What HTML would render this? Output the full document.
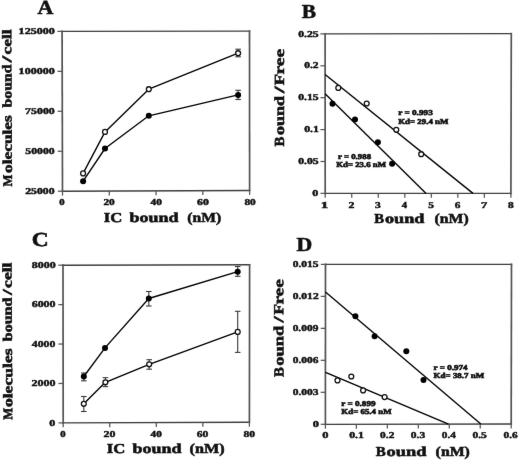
<!DOCTYPE html><html><head><meta charset="utf-8"><style>html,body{margin:0;padding:0;background:#fff;width:520px;height:460px;overflow:hidden}svg{display:block;will-change:transform}</style></head><body><svg width="520" height="460" viewBox="0 0 520 460"><defs><filter id="soft" x="0" y="0" width="520" height="460" filterUnits="userSpaceOnUse" color-interpolation-filters="sRGB"><feConvolveMatrix order="3" kernelMatrix="0.00276 0.04704 0.00276 0.04704 0.80077 0.04704 0.00276 0.04704 0.00276" edgeMode="duplicate"/></filter></defs><g filter="url(#soft)"><rect width="520" height="460" fill="#fff"/><g id="gfx"><line x1="62.10" y1="31.40" x2="249.50" y2="31.10" stroke="#404040" stroke-width="1.35" stroke-linecap="square"/><line x1="62.50" y1="191.20" x2="249.60" y2="190.50" stroke="#404040" stroke-width="1.35" stroke-linecap="square"/><line x1="62.10" y1="31.40" x2="62.50" y2="191.20" stroke="#545454" stroke-width="1.7" stroke-linecap="square"/><line x1="249.50" y1="31.10" x2="249.60" y2="190.50" stroke="#545454" stroke-width="1.7" stroke-linecap="square"/><line x1="57.80" y1="191.20" x2="62.50" y2="191.20" stroke="#555" stroke-width="1.25" /><line x1="57.70" y1="151.25" x2="62.40" y2="151.25" stroke="#555" stroke-width="1.25" /><line x1="57.60" y1="111.30" x2="62.30" y2="111.30" stroke="#555" stroke-width="1.25" /><line x1="57.50" y1="71.35" x2="62.20" y2="71.35" stroke="#555" stroke-width="1.25" /><line x1="57.40" y1="31.40" x2="62.10" y2="31.40" stroke="#555" stroke-width="1.25" /><line x1="62.50" y1="191.20" x2="62.50" y2="195.60" stroke="#555" stroke-width="1.25" /><line x1="109.28" y1="191.02" x2="109.28" y2="195.42" stroke="#555" stroke-width="1.25" /><line x1="156.05" y1="190.85" x2="156.05" y2="195.25" stroke="#555" stroke-width="1.25" /><line x1="202.82" y1="190.68" x2="202.82" y2="195.08" stroke="#555" stroke-width="1.25" /><line x1="249.60" y1="190.50" x2="249.60" y2="194.90" stroke="#555" stroke-width="1.25" /><g stroke="#3a3a3a" stroke-width="1.1"><line x1="238.1" y1="49.2" x2="238.1" y2="56.8"/><line x1="235.29999999999998" y1="49.2" x2="240.9" y2="49.2"/><line x1="235.29999999999998" y1="56.8" x2="240.9" y2="56.8"/><line x1="238.1" y1="90.3" x2="238.1" y2="99.5"/><line x1="235.29999999999998" y1="90.3" x2="240.9" y2="90.3"/><line x1="235.29999999999998" y1="99.5" x2="240.9" y2="99.5"/></g><polyline fill="none" stroke="#000" stroke-width="1.35" stroke-linejoin="round" points="83.1,173.4 105,131.9 148.8,89.2 238.1,53.2"/><polyline fill="none" stroke="#000" stroke-width="1.35" stroke-linejoin="round" points="83.1,181.2 105,148.5 148.8,115.8 238.1,94.9"/><circle cx="83.1" cy="173.4" r="2.45" fill="#fff" stroke="#111" stroke-width="1.3"/><circle cx="105" cy="131.9" r="2.45" fill="#fff" stroke="#111" stroke-width="1.3"/><circle cx="148.8" cy="89.2" r="2.45" fill="#fff" stroke="#111" stroke-width="1.3"/><circle cx="238.1" cy="53.2" r="2.45" fill="#fff" stroke="#111" stroke-width="1.3"/><circle cx="83.1" cy="181.2" r="3.0" fill="#000"/><circle cx="105" cy="148.5" r="3.0" fill="#000"/><circle cx="148.8" cy="115.8" r="3.0" fill="#000"/><circle cx="238.1" cy="94.9" r="3.0" fill="#000"/><line x1="325.10" y1="33.90" x2="511.30" y2="33.60" stroke="#404040" stroke-width="1.35" stroke-linecap="square"/><line x1="325.20" y1="193.40" x2="510.90" y2="193.40" stroke="#404040" stroke-width="1.35" stroke-linecap="square"/><line x1="325.10" y1="33.90" x2="325.20" y2="193.40" stroke="#545454" stroke-width="1.7" stroke-linecap="square"/><line x1="511.30" y1="33.60" x2="510.90" y2="193.40" stroke="#545454" stroke-width="1.7" stroke-linecap="square"/><line x1="320.50" y1="193.40" x2="325.20" y2="193.40" stroke="#555" stroke-width="1.25" /><line x1="320.48" y1="161.50" x2="325.18" y2="161.50" stroke="#555" stroke-width="1.25" /><line x1="320.46" y1="129.60" x2="325.16" y2="129.60" stroke="#555" stroke-width="1.25" /><line x1="320.44" y1="97.70" x2="325.14" y2="97.70" stroke="#555" stroke-width="1.25" /><line x1="320.42" y1="65.80" x2="325.12" y2="65.80" stroke="#555" stroke-width="1.25" /><line x1="320.40" y1="33.90" x2="325.10" y2="33.90" stroke="#555" stroke-width="1.25" /><line x1="325.20" y1="193.40" x2="325.20" y2="197.80" stroke="#555" stroke-width="1.25" /><line x1="351.73" y1="193.40" x2="351.73" y2="197.80" stroke="#555" stroke-width="1.25" /><line x1="378.26" y1="193.40" x2="378.26" y2="197.80" stroke="#555" stroke-width="1.25" /><line x1="404.79" y1="193.40" x2="404.79" y2="197.80" stroke="#555" stroke-width="1.25" /><line x1="431.31" y1="193.40" x2="431.31" y2="197.80" stroke="#555" stroke-width="1.25" /><line x1="457.84" y1="193.40" x2="457.84" y2="197.80" stroke="#555" stroke-width="1.25" /><line x1="484.37" y1="193.40" x2="484.37" y2="197.80" stroke="#555" stroke-width="1.25" /><line x1="510.90" y1="193.40" x2="510.90" y2="197.80" stroke="#555" stroke-width="1.25" /><g stroke="#000" stroke-width="1.35"><line x1="325.1" y1="74.5" x2="473.0" y2="193.4"/><line x1="325.1" y1="93.7" x2="426.1" y2="193.4"/></g><circle cx="338.3" cy="87.9" r="2.45" fill="#fff" stroke="#111" stroke-width="1.3"/><circle cx="366.7" cy="103.5" r="2.45" fill="#fff" stroke="#111" stroke-width="1.3"/><circle cx="396.3" cy="129.8" r="2.45" fill="#fff" stroke="#111" stroke-width="1.3"/><circle cx="421.2" cy="154.2" r="2.45" fill="#fff" stroke="#111" stroke-width="1.3"/><circle cx="332.5" cy="103.8" r="3.0" fill="#000"/><circle cx="355" cy="119.6" r="3.0" fill="#000"/><circle cx="377.9" cy="142.3" r="3.0" fill="#000"/><circle cx="392.1" cy="163.7" r="3.0" fill="#000"/><line x1="63.00" y1="265.20" x2="249.60" y2="264.80" stroke="#404040" stroke-width="1.35" stroke-linecap="square"/><line x1="63.20" y1="422.90" x2="249.40" y2="422.30" stroke="#404040" stroke-width="1.35" stroke-linecap="square"/><line x1="63.00" y1="265.20" x2="63.20" y2="422.90" stroke="#545454" stroke-width="1.7" stroke-linecap="square"/><line x1="249.60" y1="264.80" x2="249.40" y2="422.30" stroke="#545454" stroke-width="1.7" stroke-linecap="square"/><line x1="58.50" y1="422.90" x2="63.20" y2="422.90" stroke="#555" stroke-width="1.25" /><line x1="58.45" y1="383.47" x2="63.15" y2="383.47" stroke="#555" stroke-width="1.25" /><line x1="58.40" y1="344.05" x2="63.10" y2="344.05" stroke="#555" stroke-width="1.25" /><line x1="58.35" y1="304.62" x2="63.05" y2="304.62" stroke="#555" stroke-width="1.25" /><line x1="58.30" y1="265.20" x2="63.00" y2="265.20" stroke="#555" stroke-width="1.25" /><line x1="63.20" y1="422.90" x2="63.20" y2="427.30" stroke="#555" stroke-width="1.25" /><line x1="109.75" y1="422.75" x2="109.75" y2="427.15" stroke="#555" stroke-width="1.25" /><line x1="156.30" y1="422.60" x2="156.30" y2="427.00" stroke="#555" stroke-width="1.25" /><line x1="202.85" y1="422.45" x2="202.85" y2="426.85" stroke="#555" stroke-width="1.25" /><line x1="249.40" y1="422.30" x2="249.40" y2="426.70" stroke="#555" stroke-width="1.25" /><g stroke="#3a3a3a" stroke-width="1.1"><line x1="83.8" y1="373" x2="83.8" y2="380.8"/><line x1="81.0" y1="373" x2="86.6" y2="373"/><line x1="81.0" y1="380.8" x2="86.6" y2="380.8"/><line x1="148.8" y1="291.5" x2="148.8" y2="306"/><line x1="146.0" y1="291.5" x2="151.60000000000002" y2="291.5"/><line x1="146.0" y1="306" x2="151.60000000000002" y2="306"/><line x1="237.7" y1="266.5" x2="237.7" y2="276.3"/><line x1="234.89999999999998" y1="266.5" x2="240.5" y2="266.5"/><line x1="234.89999999999998" y1="276.3" x2="240.5" y2="276.3"/><line x1="83.8" y1="396.5" x2="83.8" y2="411.5"/><line x1="81.0" y1="396.5" x2="86.6" y2="396.5"/><line x1="81.0" y1="411.5" x2="86.6" y2="411.5"/><line x1="105.4" y1="377.7" x2="105.4" y2="386.6"/><line x1="102.60000000000001" y1="377.7" x2="108.2" y2="377.7"/><line x1="102.60000000000001" y1="386.6" x2="108.2" y2="386.6"/><line x1="149.2" y1="359.7" x2="149.2" y2="369.2"/><line x1="146.39999999999998" y1="359.7" x2="152.0" y2="359.7"/><line x1="146.39999999999998" y1="369.2" x2="152.0" y2="369.2"/><line x1="237.7" y1="311.3" x2="237.7" y2="352.4"/><line x1="234.89999999999998" y1="311.3" x2="240.5" y2="311.3"/><line x1="234.89999999999998" y1="352.4" x2="240.5" y2="352.4"/></g><polyline fill="none" stroke="#000" stroke-width="1.35" stroke-linejoin="round" points="83.8,376.5 105,347.9 148.8,298.5 237.7,271.7"/><polyline fill="none" stroke="#000" stroke-width="1.35" stroke-linejoin="round" points="83.8,403.8 105.4,382.3 149.2,364.3 237.7,331.9"/><circle cx="83.8" cy="403.8" r="2.45" fill="#fff" stroke="#111" stroke-width="1.3"/><circle cx="105.4" cy="382.3" r="2.45" fill="#fff" stroke="#111" stroke-width="1.3"/><circle cx="149.2" cy="364.3" r="2.45" fill="#fff" stroke="#111" stroke-width="1.3"/><circle cx="237.7" cy="331.9" r="2.45" fill="#fff" stroke="#111" stroke-width="1.3"/><circle cx="83.8" cy="376.5" r="3.0" fill="#000"/><circle cx="105" cy="347.9" r="3.0" fill="#000"/><circle cx="148.8" cy="298.5" r="3.0" fill="#000"/><circle cx="237.7" cy="271.7" r="3.0" fill="#000"/><line x1="325.50" y1="264.40" x2="511.50" y2="264.40" stroke="#404040" stroke-width="1.35" stroke-linecap="square"/><line x1="325.40" y1="424.30" x2="511.20" y2="424.00" stroke="#404040" stroke-width="1.35" stroke-linecap="square"/><line x1="325.50" y1="264.40" x2="325.40" y2="424.30" stroke="#545454" stroke-width="1.7" stroke-linecap="square"/><line x1="511.50" y1="264.40" x2="511.20" y2="424.00" stroke="#545454" stroke-width="1.7" stroke-linecap="square"/><line x1="320.70" y1="424.30" x2="325.40" y2="424.30" stroke="#555" stroke-width="1.25" /><line x1="320.72" y1="392.32" x2="325.42" y2="392.32" stroke="#555" stroke-width="1.25" /><line x1="320.74" y1="360.34" x2="325.44" y2="360.34" stroke="#555" stroke-width="1.25" /><line x1="320.76" y1="328.36" x2="325.46" y2="328.36" stroke="#555" stroke-width="1.25" /><line x1="320.78" y1="296.38" x2="325.48" y2="296.38" stroke="#555" stroke-width="1.25" /><line x1="320.80" y1="264.40" x2="325.50" y2="264.40" stroke="#555" stroke-width="1.25" /><line x1="325.40" y1="424.30" x2="325.40" y2="428.70" stroke="#555" stroke-width="1.25" /><line x1="356.37" y1="424.25" x2="356.37" y2="428.65" stroke="#555" stroke-width="1.25" /><line x1="387.33" y1="424.20" x2="387.33" y2="428.60" stroke="#555" stroke-width="1.25" /><line x1="418.30" y1="424.15" x2="418.30" y2="428.55" stroke="#555" stroke-width="1.25" /><line x1="449.27" y1="424.10" x2="449.27" y2="428.50" stroke="#555" stroke-width="1.25" /><line x1="480.23" y1="424.05" x2="480.23" y2="428.45" stroke="#555" stroke-width="1.25" /><line x1="511.20" y1="424.00" x2="511.20" y2="428.40" stroke="#555" stroke-width="1.25" /><g stroke="#000" stroke-width="1.35"><line x1="325.5" y1="291.9" x2="480.8" y2="424.1"/><line x1="325.5" y1="372.3" x2="448.5" y2="424.2"/></g><circle cx="337.5" cy="380.4" r="2.45" fill="#fff" stroke="#111" stroke-width="1.3"/><circle cx="351.3" cy="376.5" r="2.45" fill="#fff" stroke="#111" stroke-width="1.3"/><circle cx="363.1" cy="390.4" r="2.45" fill="#fff" stroke="#111" stroke-width="1.3"/><circle cx="384.6" cy="397.1" r="2.45" fill="#fff" stroke="#111" stroke-width="1.3"/><circle cx="355.4" cy="316.2" r="3.0" fill="#000"/><circle cx="374.6" cy="336.2" r="3.0" fill="#000"/><circle cx="406.3" cy="351.3" r="3.0" fill="#000"/><circle cx="423.5" cy="380" r="3.0" fill="#000"/></g><g id="txt" font-family='"Liberation Serif", serif' font-weight="bold" fill="#111" stroke="#111" text-rendering="geometricPrecision"><text id="t0" x="37.48" y="14.00" font-size="19.87" stroke-width="0.55" textLength="15.84" lengthAdjust="spacingAndGlyphs">A</text><text id="t1" x="301.87" y="18.00" font-size="19.87" stroke-width="0.55" textLength="14.24" lengthAdjust="spacingAndGlyphs">B</text><text id="t2" x="31.67" y="246.00" font-size="19.87" stroke-width="0.55" textLength="16.92" lengthAdjust="spacingAndGlyphs">C</text><text id="t3" x="296.59" y="251.00" font-size="19.87" stroke-width="0.55" textLength="15.74" lengthAdjust="spacingAndGlyphs">D</text><text id="t4" x="18.61" y="34.00" font-size="8.98" stroke-width="0.45" textLength="36.15" lengthAdjust="spacingAndGlyphs">125000</text><text id="t5" x="18.61" y="74.00" font-size="8.98" stroke-width="0.45" textLength="36.15" lengthAdjust="spacingAndGlyphs">100000</text><text id="t6" x="25.12" y="114.00" font-size="8.98" stroke-width="0.45" textLength="29.62" lengthAdjust="spacingAndGlyphs">75000</text><text id="t7" x="25.31" y="154.00" font-size="8.98" stroke-width="0.45" textLength="29.31" lengthAdjust="spacingAndGlyphs">50000</text><text id="t8" x="25.16" y="194.00" font-size="8.98" stroke-width="0.45" textLength="29.48" lengthAdjust="spacingAndGlyphs">25000</text><text id="t9" x="59.21" y="205.00" font-size="8.98" stroke-width="0.45" textLength="5.39" lengthAdjust="spacingAndGlyphs">0</text><text id="t10" x="103.40" y="205.00" font-size="8.98" stroke-width="0.45" textLength="11.37" lengthAdjust="spacingAndGlyphs">20</text><text id="t11" x="150.58" y="205.00" font-size="8.98" stroke-width="0.45" textLength="11.36" lengthAdjust="spacingAndGlyphs">40</text><text id="t12" x="197.02" y="205.00" font-size="8.98" stroke-width="0.45" textLength="11.81" lengthAdjust="spacingAndGlyphs">60</text><text id="t13" x="244.43" y="205.00" font-size="8.98" stroke-width="0.45" textLength="11.38" lengthAdjust="spacingAndGlyphs">80</text><text id="t14" x="103.83" y="222.00" font-size="13.72" stroke-width="0.55" textLength="18.47" lengthAdjust="spacingAndGlyphs">IC</text><text id="t15" x="129.51" y="222.00" font-size="13.72" stroke-width="0.55" textLength="48.94" lengthAdjust="spacingAndGlyphs">bound</text><text id="t16" x="187.32" y="222.00" font-size="13.86" stroke-width="0.55" textLength="33.81" lengthAdjust="spacingAndGlyphs">(nM)</text><text id="t17" transform="translate(11.95,186.58) rotate(-90.3)" x="0" y="0" font-size="13.20" stroke-width="0.55" textLength="11.98" lengthAdjust="spacingAndGlyphs">M</text><text id="t18" transform="translate(11.88,172.96) rotate(-90.3)" x="0" y="0" font-size="13.20" stroke-width="0.55" textLength="57.75" lengthAdjust="spacingAndGlyphs">olecules</text><text id="t19" transform="translate(11.54,107.47) rotate(-90.3)" x="0" y="0" font-size="13.20" stroke-width="0.55" textLength="42.88" lengthAdjust="spacingAndGlyphs">bound</text><text id="t20" transform="translate(11.30,62.30) rotate(-90.3)" x="0" y="0" font-size="13.20" stroke-width="0.55" textLength="6.33" lengthAdjust="spacingAndGlyphs">/</text><text id="t21" transform="translate(11.26,54.45) rotate(-90.3)" x="0" y="0" font-size="13.20" stroke-width="0.55" textLength="25.13" lengthAdjust="spacingAndGlyphs">cell</text><text id="t22" x="31.67" y="268.00" font-size="8.98" stroke-width="0.45" textLength="23.97" lengthAdjust="spacingAndGlyphs">8000</text><text id="t23" x="31.67" y="307.00" font-size="8.98" stroke-width="0.45" textLength="23.94" lengthAdjust="spacingAndGlyphs">6000</text><text id="t24" x="31.81" y="347.00" font-size="8.98" stroke-width="0.45" textLength="23.49" lengthAdjust="spacingAndGlyphs">4000</text><text id="t25" x="31.59" y="386.00" font-size="8.98" stroke-width="0.45" textLength="23.99" lengthAdjust="spacingAndGlyphs">2000</text><text id="t26" x="49.27" y="426.00" font-size="8.98" stroke-width="0.45" textLength="6.04" lengthAdjust="spacingAndGlyphs">0</text><text id="t27" x="60.21" y="437.00" font-size="8.98" stroke-width="0.45" textLength="5.39" lengthAdjust="spacingAndGlyphs">0</text><text id="t28" x="103.62" y="437.00" font-size="8.98" stroke-width="0.45" textLength="11.88" lengthAdjust="spacingAndGlyphs">20</text><text id="t29" x="150.59" y="437.00" font-size="8.98" stroke-width="0.45" textLength="11.17" lengthAdjust="spacingAndGlyphs">40</text><text id="t30" x="196.77" y="437.00" font-size="8.98" stroke-width="0.45" textLength="11.61" lengthAdjust="spacingAndGlyphs">60</text><text id="t31" x="243.43" y="437.00" font-size="8.98" stroke-width="0.45" textLength="11.56" lengthAdjust="spacingAndGlyphs">80</text><text id="t32" x="106.83" y="453.00" font-size="13.72" stroke-width="0.55" textLength="18.47" lengthAdjust="spacingAndGlyphs">IC</text><text id="t33" x="132.51" y="453.00" font-size="13.72" stroke-width="0.55" textLength="48.94" lengthAdjust="spacingAndGlyphs">bound</text><text id="t34" x="189.50" y="453.00" font-size="13.86" stroke-width="0.55" textLength="35.05" lengthAdjust="spacingAndGlyphs">(nM)</text><text id="t35" transform="translate(12.35,419.64) rotate(-90.3)" x="0" y="0" font-size="13.20" stroke-width="0.55" textLength="12.03" lengthAdjust="spacingAndGlyphs">M</text><text id="t36" transform="translate(12.28,407.12) rotate(-90.3)" x="0" y="0" font-size="13.20" stroke-width="0.55" textLength="58.70" lengthAdjust="spacingAndGlyphs">olecules</text><text id="t37" transform="translate(11.94,341.17) rotate(-90.3)" x="0" y="0" font-size="13.20" stroke-width="0.55" textLength="43.50" lengthAdjust="spacingAndGlyphs">bound</text><text id="t38" transform="translate(11.70,295.01) rotate(-90.3)" x="0" y="0" font-size="13.20" stroke-width="0.55" textLength="5.74" lengthAdjust="spacingAndGlyphs">/</text><text id="t39" transform="translate(11.66,287.88) rotate(-90.3)" x="0" y="0" font-size="13.20" stroke-width="0.55" textLength="25.33" lengthAdjust="spacingAndGlyphs">cell</text><text id="t40" x="298.28" y="37.00" font-size="8.98" stroke-width="0.45" textLength="20.41" lengthAdjust="spacingAndGlyphs">0.25</text><text id="t41" x="304.20" y="68.00" font-size="8.98" stroke-width="0.45" textLength="14.35" lengthAdjust="spacingAndGlyphs">0.2</text><text id="t42" x="298.28" y="100.00" font-size="8.98" stroke-width="0.45" textLength="20.41" lengthAdjust="spacingAndGlyphs">0.15</text><text id="t43" x="304.16" y="132.00" font-size="8.98" stroke-width="0.45" textLength="14.89" lengthAdjust="spacingAndGlyphs">0.1</text><text id="t44" x="298.28" y="164.00" font-size="8.98" stroke-width="0.45" textLength="20.41" lengthAdjust="spacingAndGlyphs">0.05</text><text id="t45" x="312.27" y="196.00" font-size="8.98" stroke-width="0.45" textLength="6.04" lengthAdjust="spacingAndGlyphs">0</text><text id="t46" x="320.69" y="208.00" font-size="8.98" stroke-width="0.45" textLength="7.61" lengthAdjust="spacingAndGlyphs">1</text><text id="t47" x="348.48" y="208.00" font-size="8.98" stroke-width="0.45" textLength="5.88" lengthAdjust="spacingAndGlyphs">2</text><text id="t48" x="375.09" y="208.00" font-size="8.98" stroke-width="0.45" textLength="5.76" lengthAdjust="spacingAndGlyphs">3</text><text id="t49" x="401.71" y="208.00" font-size="8.98" stroke-width="0.45" textLength="5.30" lengthAdjust="spacingAndGlyphs">4</text><text id="t50" x="428.22" y="208.00" font-size="8.98" stroke-width="0.45" textLength="5.66" lengthAdjust="spacingAndGlyphs">5</text><text id="t51" x="454.75" y="208.00" font-size="8.98" stroke-width="0.45" textLength="5.65" lengthAdjust="spacingAndGlyphs">6</text><text id="t52" x="481.08" y="208.00" font-size="8.98" stroke-width="0.45" textLength="6.28" lengthAdjust="spacingAndGlyphs">7</text><text id="t53" x="508.14" y="208.00" font-size="8.98" stroke-width="0.45" textLength="5.71" lengthAdjust="spacingAndGlyphs">8</text><text id="t54" x="374.15" y="223.00" font-size="13.72" stroke-width="0.55" textLength="9.80" lengthAdjust="spacingAndGlyphs">B</text><text id="t55" x="385.02" y="223.00" font-size="13.72" stroke-width="0.55" textLength="39.48" lengthAdjust="spacingAndGlyphs">ound</text><text id="t56" x="434.61" y="223.00" font-size="13.86" stroke-width="0.55" textLength="34.05" lengthAdjust="spacingAndGlyphs">(nM)</text><text id="t57" transform="translate(284.00,146.49) rotate(-90.05)" x="0" y="0" font-size="13.90" stroke-width="0.55" textLength="9.84" lengthAdjust="spacingAndGlyphs">B</text><text id="t58" transform="translate(283.99,135.12) rotate(-90.05)" x="0" y="0" font-size="13.90" stroke-width="0.55" textLength="39.05" lengthAdjust="spacingAndGlyphs">ound</text><text id="t59" transform="translate(283.95,93.11) rotate(-90.05)" x="0" y="0" font-size="13.90" stroke-width="0.55" textLength="6.60" lengthAdjust="spacingAndGlyphs">/</text><text id="t60" transform="translate(283.95,85.36) rotate(-90.05)" x="0" y="0" font-size="13.90" stroke-width="0.55" textLength="11.38" lengthAdjust="spacingAndGlyphs">F</text><text id="t61" transform="translate(283.94,74.52) rotate(-90.05)" x="0" y="0" font-size="13.90" stroke-width="0.55" textLength="25.59" lengthAdjust="spacingAndGlyphs">ree</text><text id="t62" x="398.15" y="115.00" font-size="7.46" stroke-width="0.6" textLength="34.63" lengthAdjust="spacingAndGlyphs">r = 0.993</text><text id="t63" x="398.21" y="124.00" font-size="7.46" stroke-width="0.6" textLength="50.13" lengthAdjust="spacingAndGlyphs">Kd= 29.4 nM</text><text id="t64" x="337.98" y="159.00" font-size="7.46" stroke-width="0.6" textLength="33.10" lengthAdjust="spacingAndGlyphs">r = 0.988</text><text id="t65" x="336.22" y="167.00" font-size="7.46" stroke-width="0.6" textLength="49.82" lengthAdjust="spacingAndGlyphs">Kd= 23.6 nM</text><text id="t66" x="292.69" y="267.00" font-size="8.98" stroke-width="0.45" textLength="25.93" lengthAdjust="spacingAndGlyphs">0.015</text><text id="t67" x="292.68" y="299.00" font-size="8.98" stroke-width="0.45" textLength="25.99" lengthAdjust="spacingAndGlyphs">0.012</text><text id="t68" x="292.68" y="331.00" font-size="8.98" stroke-width="0.45" textLength="25.67" lengthAdjust="spacingAndGlyphs">0.009</text><text id="t69" x="292.68" y="363.00" font-size="8.98" stroke-width="0.45" textLength="25.73" lengthAdjust="spacingAndGlyphs">0.006</text><text id="t70" x="292.70" y="395.00" font-size="8.98" stroke-width="0.45" textLength="25.94" lengthAdjust="spacingAndGlyphs">0.003</text><text id="t71" x="312.68" y="427.00" font-size="8.98" stroke-width="0.45" textLength="6.20" lengthAdjust="spacingAndGlyphs">0</text><text id="t72" x="322.32" y="438.00" font-size="8.98" stroke-width="0.45" textLength="6.21" lengthAdjust="spacingAndGlyphs">0</text><text id="t73" x="349.20" y="438.00" font-size="8.98" stroke-width="0.45" textLength="14.79" lengthAdjust="spacingAndGlyphs">0.1</text><text id="t74" x="380.11" y="438.00" font-size="8.98" stroke-width="0.45" textLength="14.23" lengthAdjust="spacingAndGlyphs">0.2</text><text id="t75" x="410.86" y="438.00" font-size="8.98" stroke-width="0.45" textLength="14.37" lengthAdjust="spacingAndGlyphs">0.3</text><text id="t76" x="441.81" y="438.00" font-size="8.98" stroke-width="0.45" textLength="14.04" lengthAdjust="spacingAndGlyphs">0.4</text><text id="t77" x="472.54" y="438.00" font-size="8.98" stroke-width="0.45" textLength="14.33" lengthAdjust="spacingAndGlyphs">0.5</text><text id="t78" x="503.50" y="438.00" font-size="8.98" stroke-width="0.45" textLength="14.08" lengthAdjust="spacingAndGlyphs">0.6</text><text id="t79" x="375.78" y="456.00" font-size="13.72" stroke-width="0.55" textLength="10.01" lengthAdjust="spacingAndGlyphs">B</text><text id="t80" x="386.60" y="456.00" font-size="13.72" stroke-width="0.55" textLength="39.93" lengthAdjust="spacingAndGlyphs">ound</text><text id="t81" x="435.63" y="456.00" font-size="13.86" stroke-width="0.55" textLength="34.28" lengthAdjust="spacingAndGlyphs">(nM)</text><text id="t82" transform="translate(283.40,377.02) rotate(-90.05)" x="0" y="0" font-size="13.90" stroke-width="0.55" textLength="9.94" lengthAdjust="spacingAndGlyphs">B</text><text id="t83" transform="translate(283.39,365.71) rotate(-90.05)" x="0" y="0" font-size="13.90" stroke-width="0.55" textLength="39.95" lengthAdjust="spacingAndGlyphs">ound</text><text id="t84" transform="translate(283.35,322.59) rotate(-90.05)" x="0" y="0" font-size="13.90" stroke-width="0.55" textLength="6.07" lengthAdjust="spacingAndGlyphs">/</text><text id="t85" transform="translate(283.35,314.79) rotate(-90.05)" x="0" y="0" font-size="13.90" stroke-width="0.55" textLength="10.88" lengthAdjust="spacingAndGlyphs">F</text><text id="t86" transform="translate(283.34,304.59) rotate(-90.05)" x="0" y="0" font-size="13.90" stroke-width="0.55" textLength="25.34" lengthAdjust="spacingAndGlyphs">ree</text><text id="t87" x="433.59" y="370.00" font-size="7.46" stroke-width="0.6" textLength="33.96" lengthAdjust="spacingAndGlyphs">r = 0.974</text><text id="t88" x="433.60" y="378.00" font-size="7.46" stroke-width="0.6" textLength="50.65" lengthAdjust="spacingAndGlyphs">Kd= 38.7 nM</text><text id="t89" x="341.28" y="406.00" font-size="7.46" stroke-width="0.6" textLength="34.38" lengthAdjust="spacingAndGlyphs">r = 0.899</text><text id="t90" x="341.36" y="414.00" font-size="7.46" stroke-width="0.6" textLength="50.19" lengthAdjust="spacingAndGlyphs">Kd= 65.4 nM</text></g></g></svg></body></html>
